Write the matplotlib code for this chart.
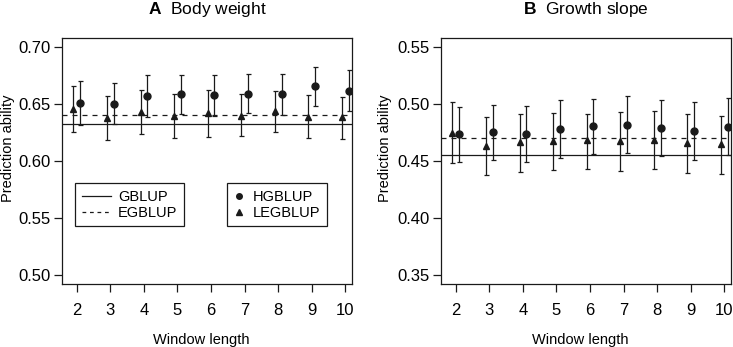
import numpy as np
import matplotlib
matplotlib.use("Agg")
import matplotlib.pyplot as plt
from matplotlib.lines import Line2D

plt.rcParams['font.family'] = ['Liberation Sans', 'DejaVu Sans']
plt.rcParams['mathtext.fontset'] = 'custom'
plt.rcParams['mathtext.bf'] = 'Liberation Sans:bold'

# data
window = np.array([2, 3, 4, 5, 6, 7, 8, 9, 10])

# A: body weight
bw_gblup = 0.6324
bw_egblup = 0.6404
bw_heg = [0.6505, 0.6501, 0.6569, 0.6586, 0.6575, 0.6589, 0.6583, 0.6656, 0.6615]
bw_heg_lo = [0.6312, 0.6321, 0.6385, 0.6411, 0.6394, 0.6417, 0.6402, 0.6481, 0.6437]
bw_heg_hi = [0.6697, 0.6680, 0.6755, 0.6752, 0.6755, 0.6761, 0.6764, 0.6825, 0.6796]
bw_leg = [0.6455, 0.6380, 0.6426, 0.6394, 0.6417, 0.6397, 0.6437, 0.6388, 0.6385]
bw_leg_lo = [0.6254, 0.6186, 0.6233, 0.6201, 0.6210, 0.6216, 0.6256, 0.6198, 0.6195]
bw_leg_hi = [0.6653, 0.6569, 0.6618, 0.6583, 0.6621, 0.6583, 0.6615, 0.6575, 0.6557]

# B: growth slope
gs_gblup = 0.4555
gs_egblup = 0.4698
gs_heg = [0.4736, 0.4754, 0.4736, 0.4783, 0.4803, 0.4818, 0.4791, 0.4765, 0.4800]
gs_heg_lo = [0.4491, 0.4506, 0.4488, 0.4529, 0.4558, 0.4567, 0.4546, 0.4509, 0.4555]
gs_heg_hi = [0.4975, 0.4993, 0.4981, 0.5036, 0.5045, 0.5069, 0.5036, 0.5019, 0.5051]
gs_leg = [0.4748, 0.4634, 0.4663, 0.4678, 0.4681, 0.4678, 0.4684, 0.4660, 0.4646]
gs_leg_lo = [0.4485, 0.4380, 0.4406, 0.4424, 0.4433, 0.4415, 0.4427, 0.4395, 0.4389]
gs_leg_hi = [0.5013, 0.4888, 0.4911, 0.4917, 0.4911, 0.4929, 0.4935, 0.4914, 0.4896]

ink = '#1a1a1a'
fig = plt.figure(figsize=(7.33, 3.47), dpi=100)
axA = fig.add_axes([62 / 733, 0.1816, 290 / 733, 0.709])
axB = fig.add_axes([441 / 733, 0.1816, 290 / 733, 0.709])


def panel(ax, g, eg, heg, heg_lo, heg_hi, leg, leg_lo, leg_hi, yticks, ylim):
    ax.axhline(g, color=ink, lw=0.9)
    ax.axhline(eg, color=ink, lw=0.9, ls=(0, (4, 4)))
    heg = np.array(heg)
    leg = np.array(leg)
    ax.errorbar(window + 0.1, heg, yerr=[heg - np.array(heg_lo), np.array(heg_hi) - heg],
                fmt='o', color=ink, ms=5, elinewidth=0.9, capsize=1.8, capthick=0.9)
    ax.errorbar(window - 0.1, leg, yerr=[leg - np.array(leg_lo), np.array(leg_hi) - leg],
                fmt='^', color=ink, ms=5, elinewidth=0.9, capsize=1.8, capthick=0.9)
    ax.set_xlim(1.56, 10.2)
    ax.set_ylim(*ylim)
    ax.set_xticks(window)
    ax.set_yticks(yticks)
    ax.set_yticklabels(['%.2f' % v for v in yticks])
    ax.tick_params(axis='both', labelsize=12, color=ink, width=0.9, length=6)
    ax.tick_params(axis='x', pad=8)
    ax.tick_params(axis='y', pad=2)
    for s in ax.spines.values():
        s.set_color(ink)
        s.set_linewidth(0.9)
    ax.set_xlabel('Window length', fontsize=10.5)
    ax.xaxis.set_label_coords(0.48, -0.2)
    ax.set_ylabel('Prediction ability', fontsize=10.5)


panel(axA, bw_gblup, bw_egblup, bw_heg, bw_heg_lo, bw_heg_hi, bw_leg, bw_leg_lo, bw_leg_hi,
      [0.50, 0.55, 0.60, 0.65, 0.70], (0.4924, 0.7076))
panel(axB, gs_gblup, gs_egblup, gs_heg, gs_heg_lo, gs_heg_hi, gs_leg, gs_leg_lo, gs_leg_hi,
      [0.35, 0.40, 0.45, 0.50, 0.55], (0.3424, 0.5576))
axA.yaxis.set_label_coords(-0.163, 0.55)
axB.yaxis.set_label_coords(-0.17, 0.55)

axA.set_title(r'$\mathbf{A}$  Body weight', fontsize=12.5, pad=17)
axB.set_title(r'$\mathbf{B}$  Growth slope', fontsize=12.5, pad=17)

h_lines = [Line2D([], [], color=ink, lw=0.9),
           Line2D([], [], color=ink, lw=0.9, ls=(0, (3, 3)))]
h_pts = [Line2D([], [], color=ink, marker='o', ls='none', ms=4),
         Line2D([], [], color=ink, marker='^', ls='none', ms=4)]
common = dict(loc='upper left', fontsize=10.5, fancybox=False, edgecolor=ink,
              framealpha=1, borderpad=0.45, labelspacing=0.15, handletextpad=0.5,
              borderaxespad=0)
leg1 = axA.legend(h_lines, ['GBLUP', 'EGBLUP'], bbox_to_anchor=(0.045, 0.41),
                  handlelength=2.0, **common)
leg1.get_frame().set_linewidth(0.9)
axA.add_artist(leg1)
leg2 = axA.legend(h_pts, ['HGBLUP', 'LEGBLUP'], bbox_to_anchor=(0.569, 0.41),
                  handlelength=0.8, **common)
leg2.get_frame().set_linewidth(0.9)

fig.savefig('out.png', dpi=100)
